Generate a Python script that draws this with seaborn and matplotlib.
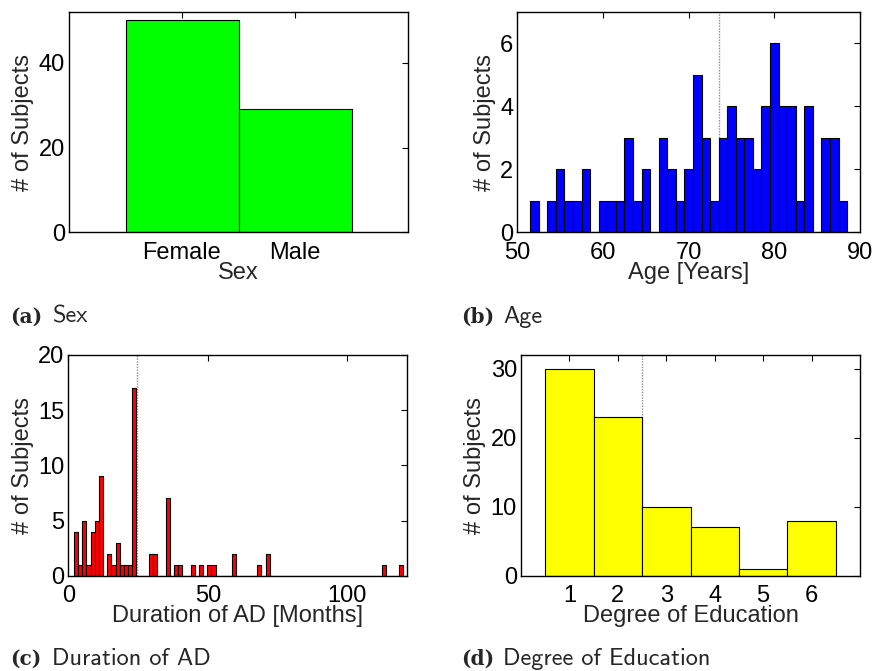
import numpy as np
import pandas as pd
import matplotlib
matplotlib.use("Agg")
import matplotlib.pyplot as plt
import seaborn as sns

# ---- data -------------------------------------------------------------
sex_labels = ["Female", "Male"]
sex_counts = [50, 29]

# age histogram: one bin per year, centred on the integer ages
age_centers = [52, 53, 54, 55, 56, 57, 58, 59, 60, 61, 62, 63, 64, 65, 66, 67,
               68, 69, 70, 71, 72, 73, 74, 75, 76, 77, 78, 79, 80, 81, 82, 83,
               84, 85, 86, 87, 88]
age_counts = [1, 0, 1, 2, 1, 1, 2, 0, 1, 1, 1, 3, 1, 2, 0, 3,
              2, 1, 2, 5, 3, 1, 3, 4, 3, 3, 2, 4, 6, 4, 4, 1,
              4, 0, 3, 3, 1]
age_marker = 73.6

# duration of AD: 79 equal bins between 2 and 120 months
duration_range = (2, 120)
duration_nbins = 79
duration_counts = [4, 1, 5, 1, 4, 5, 9, 0, 2, 1,
                   3, 1, 1, 1, 17, 0, 0, 0, 2, 2,
                   0, 0, 7, 0, 1, 1, 0, 0, 1, 0,
                   1, 0, 1, 1, 0, 0, 0, 0, 2, 0,
                   0, 0, 0, 0, 1, 0, 2, 0, 0, 0,
                   0, 0, 0, 0, 0, 0, 0, 0, 0, 0,
                   0, 0, 0, 0, 0, 0, 0, 0, 0, 0,
                   0, 0, 0, 0, 1, 0, 0, 0, 1]
duration_marker = 24.5

education_levels = [1, 2, 3, 4, 5, 6]
education_counts = [30, 23, 10, 7, 1, 8]
education_marker = 2.5

# ---- style ------------------------------------------------------------
sns.set_theme(style="white")
plt.rcParams["font.family"] = ["Liberation Sans", "DejaVu Sans"]
plt.rcParams["axes.edgecolor"] = "black"
plt.rcParams["axes.linewidth"] = 1.0

FS = 17
EDGE = dict(edgecolor="black", linewidth=0.8)

fig = plt.figure(figsize=(8.77, 6.71), dpi=100)
W, H = 877.0, 671.0


def place(left, top, right, bottom):
    return fig.add_axes([left / W, 1 - bottom / H, (right - left) / W, (bottom - top) / H])


ax_a = place(69, 12, 408, 232.3)
ax_b = place(517.3, 12, 860, 232.3)
ax_c = place(68.3, 355, 407.3, 575.7)
ax_d = place(521, 355, 860, 575.7)


def finish(ax, xlabel):
    ax.tick_params(direction="in", top=True, right=True, length=4, width=0.8,
                   labelsize=FS, colors="black")
    ax.tick_params(axis="x", pad=7)
    ax.tick_params(axis="y", pad=3)
    for s in ax.spines.values():
        s.set_visible(True)
        s.set_color("black")
    ax.set_ylabel("# of Subjects", fontsize=FS, labelpad=3)
    ax.set_xlabel(xlabel, fontsize=FS, labelpad=-1.5)


# (a) sex
sns.barplot(x=sex_labels, y=sex_counts, color="#00ff00", saturation=1,
            width=1.0, errorbar=None, ax=ax_a, **EDGE)
ax_a.set_xlim(-1, 2)
ax_a.set_ylim(0, 52)
ax_a.set_yticks([0, 20, 40])
finish(ax_a, "Sex")

# (b) age
ax_b.axvline(age_marker, color="#8c8c8c", linestyle=(0, (1, 1)), linewidth=1, zorder=0.5)
sns.histplot(x=age_centers, weights=age_counts, discrete=True, color="#0000ff",
             alpha=1, ax=ax_b, **EDGE)
ax_b.set_xlim(50, 90)
ax_b.set_ylim(0, 7)
ax_b.set_xticks([50, 60, 70, 80, 90])
ax_b.set_yticks([0, 2, 4, 6])
finish(ax_b, "Age [Years]")

# (c) duration of AD
duration_edges = np.linspace(duration_range[0], duration_range[1], duration_nbins + 1)
duration_centers = (duration_edges[:-1] + duration_edges[1:]) / 2
ax_c.axvline(duration_marker, color="#8c8c8c", linestyle=(0, (1, 1)), linewidth=1, zorder=0.5)
sns.histplot(x=duration_centers, weights=duration_counts, bins=duration_edges.tolist(),
             color="#ff0000", alpha=1, ax=ax_c, **EDGE)
ax_c.set_xlim(0, 121.5)
ax_c.set_ylim(0, 20)
ax_c.set_xticks([0, 50, 100])
ax_c.set_yticks([0, 5, 10, 15, 20])
finish(ax_c, "Duration of AD [Months]")

# (d) degree of education
ax_d.axvline(education_marker, color="#8c8c8c", linestyle=(0, (1, 1)), linewidth=1, zorder=0.5)
sns.histplot(x=education_levels, weights=education_counts, discrete=True,
             color="#ffff00", alpha=1, ax=ax_d, **EDGE)
ax_d.set_xlim(0, 7)
ax_d.set_ylim(0, 32)
ax_d.set_xticks([1, 2, 3, 4, 5, 6])
ax_d.set_yticks([0, 10, 20, 30])
finish(ax_d, "Degree of Education")

# sub-figure captions: bold tag followed by the caption text
captions = [("(a)", "Sex", 10, 322.5), ("(b)", "Age", 460.7, 322.5),
            ("(c)", "Duration of AD", 10, 665), ("(d)", "Degree of Education", 460.7, 665)]
for tag, text, x, y in captions:
    fig.text(x / W, 1 - y / H, tag, fontsize=14.5, fontweight="bold",
             family=["DejaVu Serif"], va="baseline", ha="left")
    fig.text((x + 42.5) / W, 1 - y / H, text, fontsize=17.5,
             family=["cmss10", "DejaVu Sans"], va="baseline", ha="left")

fig.savefig("out.png", dpi=100)
